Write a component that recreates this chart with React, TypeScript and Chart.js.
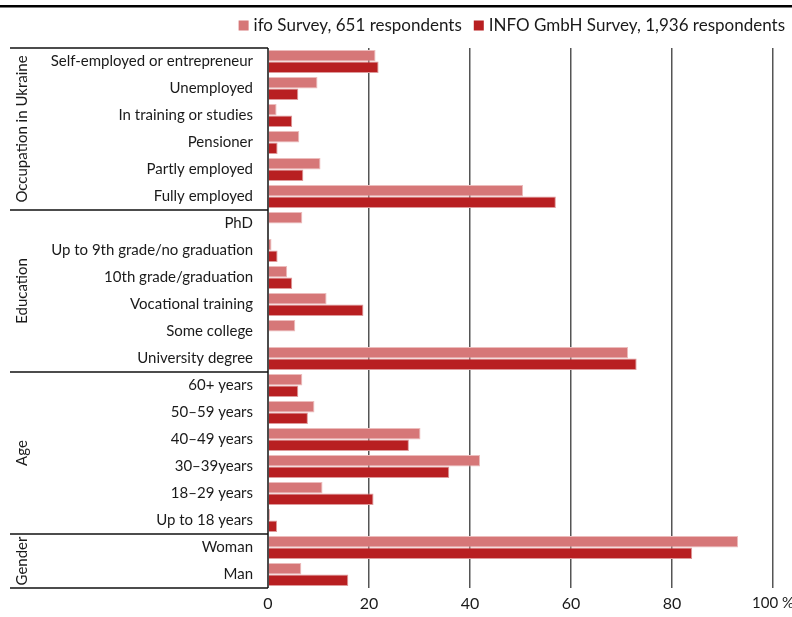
import React, { useEffect, useRef } from "react";
import { Chart, registerables } from "chart.js";

Chart.register(...registerables);

const categories = [
  "Self-employed or entrepreneur",
  "Unemployed",
  "In training or studies",
  "Pensioner",
  "Partly employed",
  "Fully employed",
  "PhD",
  "Up to 9th grade/no graduation",
  "10th grade/graduation",
  "Vocational training",
  "Some college",
  "University degree",
  "60+ years",
  "50–59 years",
  "40–49 years",
  "30–39years",
  "18–29 years",
  "Up to 18 years",
  "Woman",
  "Man",
];

const ifoValues = [21.3, 9.8, 1.7, 6.2, 10.4, 50.5, 6.8, 0.7, 3.8, 11.6, 5.4, 71.3, 6.8, 9.2, 30.2, 42.0, 10.8, 0.4, 93.1, 6.6];
const infoValues = [21.9, 6.0, 4.8, 1.9, 7.0, 57.0, 0, 1.9, 4.8, 18.9, 0, 73.0, 6.0, 7.9, 27.9, 35.9, 20.9, 1.8, 84.0, 15.9];

const seriesLabels = ["ifo Survey, 651 respondents", "INFO GmbH Survey, 1,936 respondents"];
const groupNames = ["Occupation in Ukraine", "Education", "Age", "Gender"];
const groupSizes = [6, 6, 6, 2];
const xTicks = [0, 20, 40, 60, 80, 100];

const FONT = "Lato";
const LIGHT = "#d67778";
const DARK = "#b81f21";
const TEXT = "#1a1a1a";

const decorPlugin = {
  id: "decor",
  afterDraw(chart: any) {
    const ctx = chart.ctx;
    const area = chart.chartArea;
    const y = chart.scales.y;
    ctx.save();
    // top rule
    ctx.fillStyle = "#000";
    ctx.fillRect(0, 5, chart.width, 2.5);

    // legend
    ctx.font = `17px ${FONT}`;
    ctx.textBaseline = "middle";
    ctx.textAlign = "left";
    const colors = [LIGHT, DARK];
    let xr = 785;
    const widths = seriesLabels.map((t) => ctx.measureText(t).width);
    const positions: number[] = [];
    for (let i = seriesLabels.length - 1; i >= 0; i--) {
      const textX = xr - widths[i];
      positions[i] = textX;
      xr = textX - 5 - 10 - 12;
    }
    for (let i = 0; i < seriesLabels.length; i++) {
      ctx.fillStyle = colors[i];
      ctx.fillRect(positions[i] - 15, 20.5, 10, 10);
      ctx.fillStyle = TEXT;
      ctx.fillText(seriesLabels[i], positions[i], 26);
    }

    // group lines and labels
    const half = (y.getPixelForValue(1) - y.getPixelForValue(0)) / 2;
    ctx.strokeStyle = "#111";
    ctx.lineWidth = 1.5;
    let start = 0;
    const boundaries: number[] = [y.getPixelForValue(0) - half];
    groupSizes.forEach((n) => {
      start += n;
      boundaries.push(y.getPixelForValue(start - 1) + half);
    });
    boundaries.forEach((by) => {
      ctx.beginPath();
      ctx.moveTo(10, by);
      ctx.lineTo(area.left, by);
      ctx.stroke();
    });
    ctx.beginPath();
    ctx.moveTo(area.left, area.top);
    ctx.lineTo(area.left, area.bottom);
    ctx.stroke();

    ctx.fillStyle = TEXT;
    ctx.font = `15px ${FONT}`;
    ctx.textAlign = "center";
    ctx.textBaseline = "middle";
    groupNames.forEach((name, i) => {
      const cy = (boundaries[i] + boundaries[i + 1]) / 2;
      ctx.save();
      ctx.translate(22, cy);
      ctx.rotate(-Math.PI / 2);
      ctx.fillText(name, 0, 0);
      ctx.restore();
    });
    ctx.restore();
  },
};

export default function App() {
  const ref = useRef<HTMLCanvasElement>(null);
  useEffect(() => {
    document.body.style.margin = "0";
    const chart = new Chart(ref.current!, {
      type: "bar",
      data: {
        labels: categories,
        datasets: [
          {
            label: seriesLabels[0],
            data: ifoValues,
            backgroundColor: LIGHT,
            borderColor: "#ecbcbc",
            borderWidth: 1,
            barPercentage: 1,
            categoryPercentage: 0.86,
          },
          {
            label: seriesLabels[1],
            data: infoValues,
            backgroundColor: DARK,
            borderColor: "#de9a9b",
            borderWidth: 1,
            barPercentage: 1,
            categoryPercentage: 0.86,
          },
        ],
      },
      options: {
        indexAxis: "y",
        responsive: false,
        animation: false,
        layout: { padding: { top: 48, right: 19, left: 0, bottom: 0 } },
        plugins: { legend: { display: false }, tooltip: { enabled: false } },
        scales: {
          x: {
            min: 0,
            max: 100,
            afterBuildTicks: (s: any) => {
              s.ticks = xTicks.map((v) => ({ value: v }));
            },
            afterFit: (s: any) => {
              s.height = 29;
              s.paddingRight = 0;
              s.paddingLeft = 0;
            },
            ticks: {
              padding: 6,
              color: TEXT,
              font: (c: any) => ({
                family: FONT,
                size: c.tick && c.tick.value === 100 ? 15 : 16,
              }),
              callback: (v: any) => (v === 100 ? "100 %" : String(v)),
            },
            grid: {
              color: (c: any) => (c.tick && c.tick.value === 0 ? "rgba(0,0,0,0)" : "#555"),
              lineWidth: 1.5,
              drawTicks: true,
              tickLength: 0,
            },
            border: { display: false },
          },
          y: {
            afterFit: (s: any) => {
              s.width = 268;
              s.paddingTop = 0;
              s.paddingBottom = 0;
            },
            ticks: {
              padding: 7,
              color: TEXT,
              font: { family: FONT, size: 15 },
              autoSkip: false,
            },
            grid: { display: false },
            border: { display: false },
          },
        },
      },
      plugins: [decorPlugin],
    });
    return () => chart.destroy();
  }, []);
  return (
    <div style={{ width: 792, height: 617 }}>
      <canvas ref={ref} width={792} height={617} />
    </div>
  );
}
